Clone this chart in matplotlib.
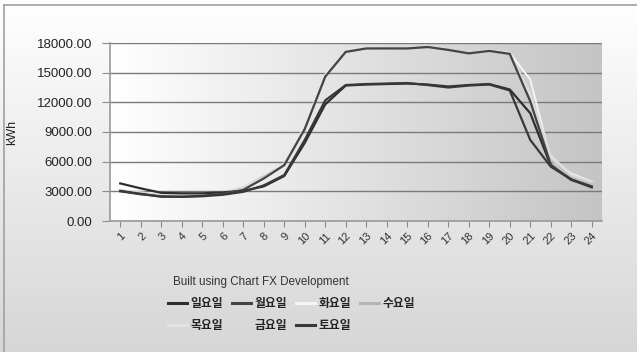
import numpy as np
import matplotlib
matplotlib.use("Agg")
import matplotlib.pyplot as plt

plt.rcParams['font.family'] = ['Liberation Sans', 'Noto Sans CJK KR', 'DejaVu Sans']

# hourly load per weekday (kWh)
hours = list(range(1, 25))
sun = [3800, 3300, 2850, 2800, 2800, 2900, 3050, 3500, 4550, 7900, 11800, 13700,
       13800, 13850, 13900, 13800, 13600, 13750, 13850, 13300, 10900, 5600, 4200, 3500]
mon = [3000, 2700, 2500, 2450, 2550, 2750, 3150, 4300, 5650, 9300, 14600, 17100,
       17450, 17450, 17450, 17600, 17300, 16950, 17200, 16900, 12100, 5700, 4150, 3450]
tue = [3200, 2900, 2700, 2650, 2700, 2850, 3300, 4400, 5800, 9600, 14800, 17200,
       17500, 17500, 17500, 17650, 17350, 17000, 17250, 17000, 14300, 6200, 4800, 4000]
wed = [3100, 2850, 2600, 2600, 2650, 2850, 3400, 4500, 5700, 9400, 14650, 17150,
       17450, 17500, 17450, 17550, 17350, 17000, 17200, 16900, 12500, 6300, 4500, 3900]
thu = [3150, 2800, 2650, 2600, 2700, 2900, 3450, 4400, 5750, 9350, 14600, 17200,
       17500, 17450, 17500, 17600, 17300, 17000, 17250, 16950, 12700, 6600, 4700, 4000]
fri = [3100, 2800, 2600, 2550, 2650, 2850, 3350, 4350, 5700, 9400, 14700, 17150,
       17450, 17500, 17450, 17600, 17300, 16950, 17200, 16950, 13000, 6400, 4600, 3950]
sat = [3050, 2750, 2450, 2450, 2500, 2650, 2950, 3600, 4650, 8200, 12200, 13750,
       13850, 13900, 13950, 13750, 13500, 13700, 13800, 13200, 8200, 5500, 4200, 3400]

names = ['일요일', '월요일', '화요일', '수요일', '목요일', '금요일', '토요일']
series = [sun, mon, tue, wed, thu, fri, sat]
colors = ['#2e2e2e', '#444444', '#f4f4f4', '#b4b4b4', '#e4e4e4', '#dadada', '#383838']
dark = [True, True, False, False, False, False, True]
yticks = [0, 3000, 6000, 9000, 12000, 15000, 18000]

fig = plt.figure(figsize=(6.37, 3.52), dpi=100)

# background: vertical gradient plus a thin frame on the left/top
bg = fig.add_axes([0, 0, 1, 1], zorder=-10)
grad = np.linspace(1.0, 0.84, 256).reshape(-1, 1)
bg.imshow(np.dstack([grad] * 3), aspect='auto', extent=[0, 1, 0, 1])
bg.plot([4 / 637, 4 / 637], [0, 1 - 5 / 352], color='#a0a0a0', lw=1.2)
bg.plot([4 / 637, 1.01], [1 - 5 / 352, 1 - 5 / 352], color='#a0a0a0', lw=1.2)
bg.set_xlim(0, 1)
bg.set_ylim(0, 1)
bg.axis('off')

ax = fig.add_axes([110 / 637, 131 / 352, 492 / 637, 178 / 352])
ax.patch.set_visible(False)
hgrad = np.linspace(1.0, 0.77, 256).reshape(1, -1)
ax.imshow(np.dstack([hgrad] * 3), aspect='auto', extent=[0, 1, 0, 1],
          transform=ax.transAxes, zorder=0)

lines = []
for vals, name, c, d in zip(series, names, colors, dark):
    ln, = ax.plot(hours, vals, color=c, lw=1.6 if d else 1.4, label=name,
                  zorder=4 if d else 3)
    lines.append(ln)

ax.set_xlim(0.5, 24.5)
ax.set_ylim(0, 18000)
ax.set_yticks(yticks)
ax.set_yticklabels([f'{v:.2f}' for v in yticks], fontsize=9.5, color='#222222')
ax.set_xticks(hours)
ax.set_xticklabels([str(h) for h in hours], rotation=45, ha='right',
                   rotation_mode='anchor', fontsize=8, color='#333333')
ax.yaxis.grid(True, color='#7a7a7a', lw=1.0, zorder=1)
ax.tick_params(axis='y', length=6, color='#8a8a8a', pad=7)
ax.tick_params(axis='x', length=4, color='#8a8a8a', pad=3)
for s in ['top', 'right']:
    ax.spines[s].set_visible(False)
for s in ['left', 'bottom']:
    ax.spines[s].set_color('#9a9a9a')
    ax.spines[s].set_linewidth(1.2)
ax.set_ylabel('kWh', fontsize=9, color='#222222')
ax.yaxis.set_label_coords(-92 / 492, 0.5)

fig.text(261 / 637, 1 - 282 / 352, 'Built using Chart FX Development',
         ha='center', va='center', fontsize=8.4, color='#333333')

# row-major order for a 4-column legend
order = [0, 4, 1, 5, 2, 6, 3]
leg = fig.legend([lines[i] for i in order], [names[i] for i in order],
                 ncol=4, loc='upper left', bbox_to_anchor=(168 / 637, 1 - 297 / 352),
                 frameon=False, borderpad=0, borderaxespad=0,
                 handlelength=1.6, handletextpad=0.3, columnspacing=0.75,
                 labelspacing=0.8,
                 prop={'family': ['Noto Sans CJK KR'], 'size': 8.5, 'weight': 'bold'})
for t in leg.get_texts():
    t.set_color('#222222')
for h in leg.legend_handles:
    h.set_linewidth(2.2)

fig.savefig('out.png', dpi=100)
